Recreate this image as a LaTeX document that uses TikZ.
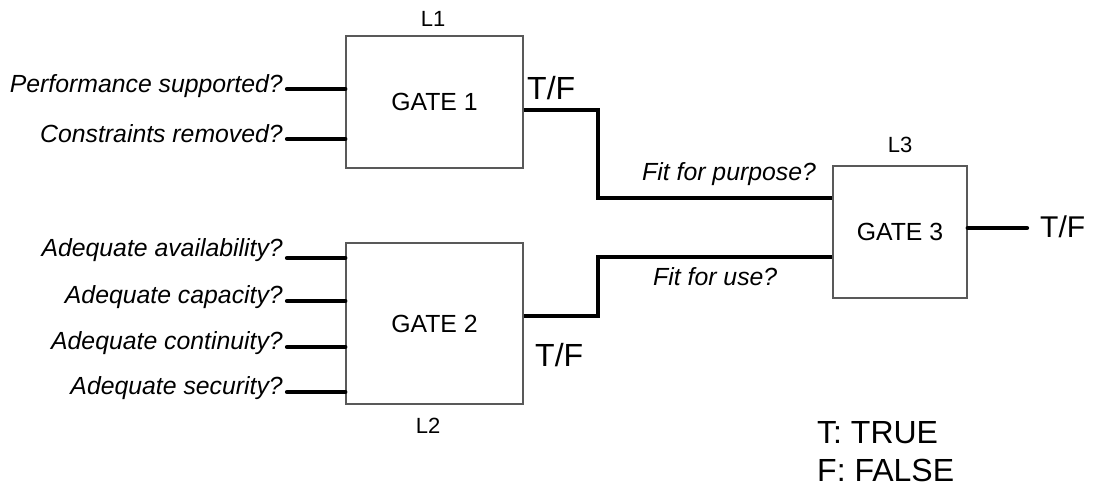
\documentclass[tikz,border=0pt]{standalone}
\usepackage{fontspec}
\setmainfont{Liberation Sans}
\begin{document}
\begin{tikzpicture}[x=1pt,y=-1pt,
  gate/.style={draw=black!65, line width=1.3pt, fill=white, inner sep=0pt,
    font=\fontsize{24.8}{28}\selectfont},
  wire/.style={line width=4.2pt, line cap=round, line join=miter},
  qlab/.style={inner sep=0pt, font=\fontsize{24.8}{28}\selectfont\itshape},
  llab/.style={inner sep=0pt, font=\fontsize{22}{26}\selectfont},
  tflab/.style={inner sep=0pt, font=\fontsize{32}{36}\selectfont},
  tfsmall/.style={inner sep=0pt, font=\fontsize{30}{34}\selectfont}]
\useasboundingbox (0,0) rectangle (1093,488);

% gates
\node[gate, minimum width=177pt, minimum height=132pt] (g1) at (434.5,102) {GATE 1};
\node[gate, minimum width=177pt, minimum height=161pt] (g2) at (434.5,323.5) {GATE 2};
\node[gate, minimum width=134pt, minimum height=132pt] (g3) at (900,232) {GATE 3};

% level labels
\node[llab, anchor=base] (l1) at (433,26) {L1};
\node[llab, anchor=base] (l2) at (428,433) {L2};
\node[llab, anchor=base] (l3) at (900,152) {L3};

% inputs of gate 1
\coordinate (i1) at (287,89);
\coordinate (i2) at (287,139);
\node[qlab, anchor=base east] (q1) at (283,92) {Performance supported?};
\node[qlab, anchor=base east] (q2) at (283,142) {Constraints removed?};
\draw[wire] (i1) -- (i1 -| g1.west);
\draw[wire] (i2) -- (i2 -| g1.west);

% inputs of gate 2
\coordinate (i3) at (287,258);
\coordinate (i4) at (287,301);
\coordinate (i5) at (287,347);
\coordinate (i6) at (287,392);
\node[qlab, anchor=base east] (q3) at (283,256) {Adequate availability?};
\node[qlab, anchor=base east] (q4) at (283,303) {Adequate capacity?};
\node[qlab, anchor=base east] (q5) at (283,349) {Adequate continuity?};
\node[qlab, anchor=base east] (q6) at (283,394) {Adequate security?};
\draw[wire] (i3) -- (i3 -| g2.west);
\draw[wire] (i4) -- (i4 -| g2.west);
\draw[wire] (i5) -- (i5 -| g2.west);
\draw[wire] (i6) -- (i6 -| g2.west);

% gate outputs to gate 3
\draw[wire, line cap=butt] ([yshift=-8pt]g1.east) -- ++(74pt,0) |- ([yshift=34pt]g3.west);
\draw[wire, line cap=butt] ([yshift=7.5pt]g2.east) -- ++(74pt,0) |- ([yshift=-25pt]g3.west);

\node[tflab, anchor=base west] (tf1) at (527,99) {T/F};
\node[tflab, anchor=base west] (tf2) at (535,366) {T/F};

\node[qlab, anchor=base west] (fp) at (642,180) {Fit for purpose?};
\node[qlab, anchor=base west] (fu) at (653,285) {Fit for use?};

% gate 3 output
\coordinate (o3) at (1027,228);
\draw[wire] ([yshift=4pt]g3.east) -- (o3);
\node[tfsmall, anchor=base west] (tf3) at (1040,237) {T/F};

% legend
\node[tflab, anchor=base west] (lt) at (817,443) {T: TRUE};
\node[tflab, anchor=base west] (lf) at (817,481) {F: FALSE};
\end{tikzpicture}
\end{document}
